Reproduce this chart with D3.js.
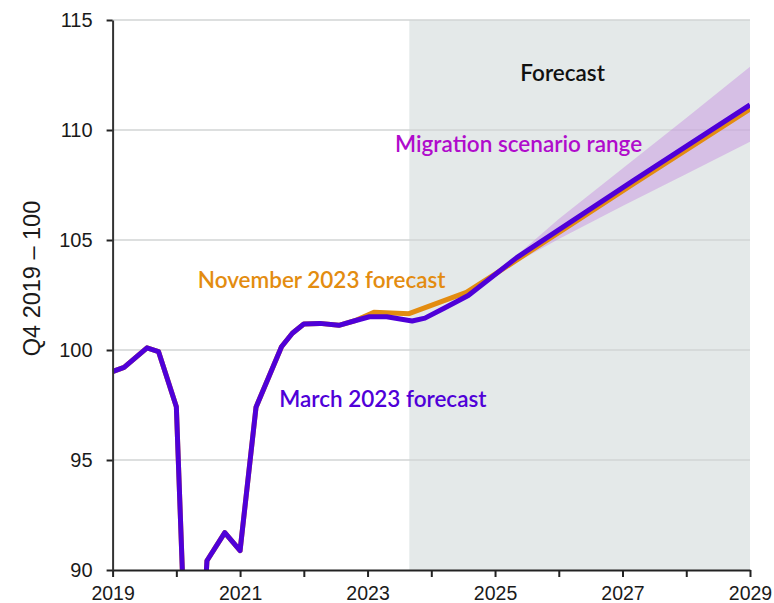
<!DOCTYPE html>
<html>
<head>
<meta charset="utf-8">
<script src="https://cdn.jsdelivr.net/npm/d3@7/dist/d3.min.js"></script>
<style>
  html, body { margin: 0; padding: 0; background: #ffffff; }
  svg { display: block; }
</style>
</head>
<body>
<svg id="chart" width="774" height="603"></svg>
<script>
// ---- data ----
const marchYears  = [2019.0, 2019.18, 2019.54, 2019.72, 2020.0, 2020.25, 2020.48, 2020.76, 2021.0, 2021.25, 2021.65, 2021.82, 2022.0, 2022.25, 2022.55, 2022.8, 2023.03, 2023.3, 2023.7, 2023.9, 2024.2, 2024.58, 2025.34, 2027.17, 2029.0];
const marchValues = [99.02, 99.21, 100.1, 99.93, 97.42, 77.7, 90.42, 91.7, 90.88, 97.4, 100.15, 100.76, 101.18, 101.21, 101.12, 101.33, 101.51, 101.51, 101.32, 101.45, 101.9, 102.48, 104.2, 107.7, 111.14];

const novYears  = [2019.0, 2019.18, 2019.54, 2019.72, 2020.0, 2020.25, 2020.48, 2020.76, 2021.0, 2021.25, 2021.65, 2021.82, 2022.0, 2022.25, 2022.55, 2022.8, 2023.1, 2023.65, 2024.55, 2025.0, 2027.17, 2029.0];
const novValues = [99.02, 99.21, 100.1, 99.93, 97.42, 77.7, 90.42, 91.7, 90.88, 97.4, 100.15, 100.76, 101.18, 101.21, 101.12, 101.33, 101.72, 101.65, 102.62, 103.45, 107.55, 110.95];

const rangeYears = [2025.0, 2026.0, 2027.0, 2028.0, 2029.0];
const rangeUpper = [103.45, 105.95, 108.25, 110.55, 112.88];
const rangeLower = [103.45, 105.05, 106.55, 108.0, 109.47];

const forecastStart = 2023.655;
const xTickYears = [2019, 2020, 2021, 2022, 2023, 2024, 2025, 2026, 2027, 2028, 2029];
const xTickLabels = ["2019", "", "2021", "", "2023", "", "2025", "", "2027", "", "2029"];
const yTicks = [90, 95, 100, 105, 110, 115];

// ---- layout ----
const svg = d3.select("#chart");
const x = d3.scaleLinear().domain([2019, 2029]).range([112.6, 750]);
const y = d3.scaleLinear().domain([90, 115]).range([570, 20]);

const tickFont = "'Liberation Sans', Arial, Helvetica, sans-serif";
const labelFont = "Lato, 'Noto Sans', sans-serif";

// clip
svg.append("defs").append("clipPath").attr("id", "plotclip")
  .append("rect")
  .attr("x", x(2019)).attr("y", y(115))
  .attr("width", x(2029) - x(2019)).attr("height", y(90) - y(115));

// forecast shading
svg.append("rect")
  .attr("x", x(forecastStart)).attr("y", y(115))
  .attr("width", x(2029) - x(forecastStart))
  .attr("height", y(90) - y(115))
  .attr("fill", "#e4e9e9");

// gridlines
svg.append("g").selectAll("line")
  .data(yTicks.filter(d => d > 90))
  .join("line")
  .attr("x1", x(2019)).attr("x2", x(2029))
  .attr("y1", d => y(d)).attr("y2", d => y(d))
  .attr("stroke", "#d2d4d4").attr("stroke-width", 1.5);

const plot = svg.append("g").attr("clip-path", "url(#plotclip)");

// migration scenario range
const area = d3.area()
  .x((d, i) => x(rangeYears[i]))
  .y0((d, i) => y(rangeLower[i]))
  .y1((d, i) => y(rangeUpper[i]));
plot.append("path")
  .attr("d", area(rangeYears))
  .attr("fill", "#c58ce0")
  .attr("fill-opacity", 0.45);

const line = d3.line().x(d => x(d[0])).y(d => y(d[1]));

plot.append("path")
  .attr("d", line(novYears.map((t, i) => [t, novValues[i]])))
  .attr("fill", "none").attr("stroke", "#e38c10")
  .attr("stroke-width", 5).attr("stroke-linejoin", "round");

plot.append("path")
  .attr("d", line(marchYears.map((t, i) => [t, marchValues[i]])))
  .attr("fill", "none").attr("stroke", "#4f00d8")
  .attr("stroke-width", 5).attr("stroke-linejoin", "round");

// axes
const xAxis = d3.axisBottom(x)
  .tickValues(xTickYears)
  .tickFormat((d, i) => xTickLabels[i])
  .tickSize(7).tickSizeOuter(0).tickPadding(9);
const gx = svg.append("g").attr("transform", `translate(0,${y(90)})`).call(xAxis);
gx.select(".domain").attr("stroke", "#222").attr("stroke-width", 2);
gx.selectAll(".tick line").attr("stroke", "#222").attr("stroke-width", 2);
gx.selectAll(".tick text").attr("fill", "#1a1a1a")
  .style("font-family", tickFont).style("font-size", "19.5px");

const yAxis = d3.axisLeft(y)
  .tickValues(yTicks)
  .tickSize(6).tickSizeOuter(0).tickPadding(14);
const gy = svg.append("g").attr("transform", `translate(${x(2019)},0)`).call(yAxis);
gy.select(".domain").attr("stroke", "#333").attr("stroke-width", 2);
gy.selectAll(".tick line").attr("stroke", "#222").attr("stroke-width", 2);
gy.selectAll(".tick text").attr("fill", "#1a1a1a")
  .style("font-family", tickFont).style("font-size", "20px");

// y-axis title
svg.append("text")
  .attr("transform", `translate(40,278.5) rotate(-90)`)
  .attr("text-anchor", "middle")
  .style("font-family", tickFont).style("font-size", "23.5px")
  .attr("fill", "#1a1a1a")
  .text("Q4 2019 \u2013 100");

// annotations
const notes = [
  { text: "Forecast", year: 2026.06, value: 112.24, color: "#111111" },
  { text: "Migration scenario range", year: 2025.37, value: 108.99, color: "#b00ccc" },
  { text: "November 2023 forecast", year: 2022.28, value: 102.84, color: "#e38c10" },
  { text: "March 2023 forecast", year: 2023.24, value: 97.42, color: "#5000d8" }
];
svg.append("g").selectAll("text")
  .data(notes)
  .join("text")
  .attr("x", d => x(d.year))
  .attr("y", d => y(d.value))
  .attr("text-anchor", "middle")
  .style("font-family", labelFont).style("font-size", "22.5px")
  .style("font-weight", 600)
  .attr("fill", d => d.color)
  .text(d => d.text);
</script>
</body>
</html>
